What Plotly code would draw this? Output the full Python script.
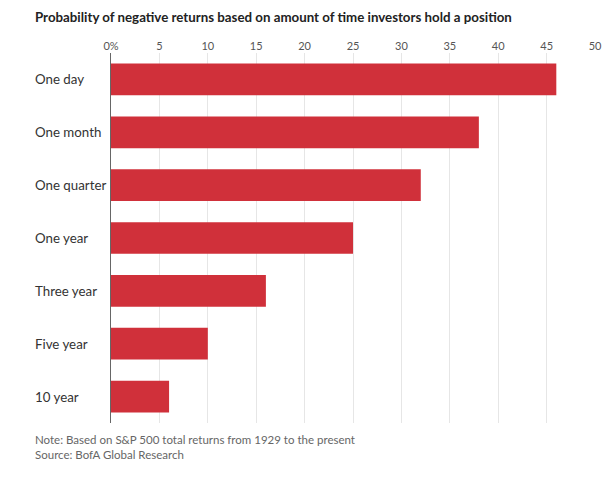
import plotly.graph_objects as go

categories = ["One day", "One month", "One quarter", "One year", "Three year", "Five year", "10 year"]
values = [46, 38, 32, 25, 16, 10, 6]
tick_vals = [0, 5, 10, 15, 20, 25, 30, 35, 40, 45, 50]
tick_text = ["0%", "5", "10", "15", "20", "25", "30", "35", "40", "45", "50"]

title = "Probability of negative returns based on amount of time investors hold a position"
note = "Note: Based on S&P 500 total returns from 1929 to the present<br>Source: BofA Global Research"

fig = go.Figure(go.Bar(
    x=values, y=categories, orientation="h",
    marker=dict(color="#d0303a", line=dict(width=0)),
    width=0.6,
))

AX = -0.161
annotations = []
for c in categories:
    annotations.append(dict(
        x=AX, xref="paper", y=c, yref="y", text=c, showarrow=False,
        xanchor="left", yanchor="middle",
        font=dict(size=13.3, color="#333", family="Lato, sans-serif"),
    ))
annotations.append(dict(
    x=AX, xref="paper", y=1.097, yref="paper", text="<b>" + title + "</b>",
    showarrow=False, xanchor="left", yanchor="middle",
    font=dict(size=13.3, color="#222", family="Lato, sans-serif"),
))
annotations.append(dict(
    x=AX, xref="paper", y=-0.022, yref="paper", text=note,
    showarrow=False, xanchor="left", yanchor="top", align="left",
    font=dict(size=11.5, color="#666", family="Lato, sans-serif"),
))

fig.update_layout(
    width=606, height=472,
    margin=dict(l=103, r=18, t=45, b=57, autoexpand=False),
    plot_bgcolor="white", paper_bgcolor="white",
    showlegend=False,
    annotations=annotations,
    font=dict(family="Lato, sans-serif"),
)
fig.update_xaxes(
    side="top", range=[0, 50.1], tickvals=tick_vals, ticktext=tick_text,
    showgrid=True, gridcolor="#e6e6e6", gridwidth=1,
    zeroline=False, showline=False, ticks="",
    tickfont=dict(size=11, color="#555"),
)
fig.update_yaxes(
    categoryorder="array", categoryarray=categories, autorange="reversed",
    showticklabels=False, showgrid=False, zeroline=False,
    showline=True, linecolor="#666", linewidth=1, ticks="",
)

fig.write_html("out.html")
